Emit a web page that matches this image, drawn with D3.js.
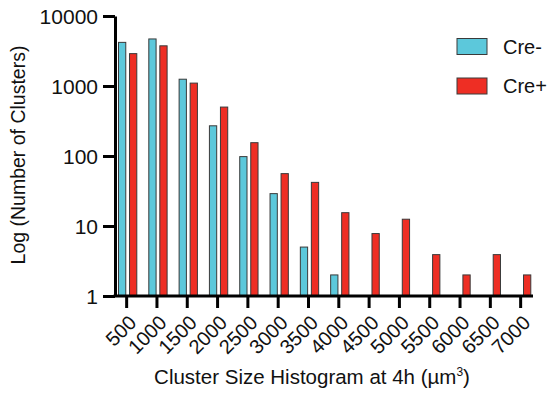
<html>
  <head>
    <meta charset="utf-8">
    <script src="https://d3js.org/d3.v7.min.js"></script>
    <title>Cluster Size Histogram</title>
    <style>
      body {
        margin: 0px;
        background: #fff;
      }
      text {
        font-family: 'Liberation Sans', Arial, sans-serif;
        fill: #111;
      }
    </style>
  </head>
  <body>
    <svg width="553" height="394"></svg>
    <script>
      const categories = ['500', '1000', '1500', '2000', '2500', '3000', '3500',
        '4000', '4500', '5000', '5500', '6000', '6500', '7000'];
      const series = ['Cre-', 'Cre+'];
      const creMinus = [4200, 4700, 1250, 270, 98, 29, 5, 2, null, null, null, null, null, null];
      const crePlus = [2900, 3750, 1100, 500, 155, 56, 42, 15.5, 7.8, 12.5, 3.9, 2, 3.9, 2];
      const yTickValues = [1, 10, 100, 1000, 10000];
      const colors = { 'Cre-': '#5cc8db', 'Cre+': '#ee2e24' };
      const xLabel = 'Cluster Size Histogram at 4h (µm';
      const yLabel = 'Log (Number of Clusters)';

      const svg = d3.select('svg');
      const yAxisX = 115;
      const baseY = 296;

      const xScale = d3.scaleBand()
        .domain(categories)
        .range([111.5, 535.8]);
      const x1 = d3.scaleBand()
        .domain(series)
        .range([7, 25.3])
        .paddingInner(0.34);
      const yScale = d3.scaleLog()
        .domain([1, 10000])
        .range([baseY, 16]);

      const data = categories.map((c, i) => ({
        cat: c,
        values: [{ key: 'Cre-', v: creMinus[i] }, { key: 'Cre+', v: crePlus[i] }]
      }));

      // bars
      svg.append('g').selectAll('g')
        .data(data)
        .join('g')
          .attr('transform', d => `translate(${xScale(d.cat)},0)`)
        .selectAll('rect')
        .data(d => d.values.filter(e => e.v != null))
        .join('rect')
          .attr('x', d => x1(d.key))
          .attr('width', x1.bandwidth())
          .attr('y', d => yScale(d.v))
          .attr('height', d => baseY - yScale(d.v))
          .attr('fill', d => colors[d.key])
          .attr('stroke', '#3a3a3a')
          .attr('stroke-width', 1);

      // y axis
      const yAxis = d3.axisLeft(yScale)
        .tickValues(yTickValues)
        .tickFormat(d3.format('d'))
        .tickSize(12)
        .tickPadding(5)
        .tickSizeOuter(0);
      const yAxisG = svg.append('g')
        .attr('transform', `translate(${yAxisX},0)`)
        .call(yAxis);
      yAxisG.select('.domain').attr('stroke-width', 3).attr('stroke', '#000');
      yAxisG.selectAll('.tick line').attr('stroke-width', 3).attr('stroke', '#000');
      yAxisG.selectAll('.tick text')
        .attr('font-size', 21)
        .attr('dy', '0.36em')
        .attr('fill', '#111');

      // x axis
      const xAxis = d3.axisBottom(xScale)
        .tickSize(12)
        .tickSizeOuter(0);
      const xAxisG = svg.append('g')
        .attr('transform', `translate(0,${baseY})`)
        .call(xAxis);
      xAxisG.select('.domain').remove();
      xAxisG.append('line')
        .attr('x1', yAxisX - 1.5)
        .attr('x2', 533)
        .attr('stroke', '#000')
        .attr('stroke-width', 3);
      xAxisG.selectAll('.tick line').attr('stroke-width', 3).attr('stroke', '#000');
      xAxisG.selectAll('.tick text')
        .attr('font-size', 20)
        .attr('fill', '#111')
        .attr('text-anchor', 'end')
        .attr('transform', 'translate(1,18) rotate(-45)')
        .attr('x', 0)
        .attr('y', 0)
        .attr('dy', '0.7em');

      // axis titles
      const xt = svg.append('text')
        .attr('x', 312)
        .attr('y', 384)
        .attr('text-anchor', 'middle')
        .attr('font-size', 20.5)
        .text(xLabel);
      xt.append('tspan')
        .attr('font-size', 12)
        .attr('dy', -8)
        .text('3');
      xt.append('tspan')
        .attr('dy', 8)
        .text(')');

      svg.append('text')
        .attr('transform', 'translate(25,155) rotate(-90)')
        .attr('text-anchor', 'middle')
        .attr('font-size', 19.5)
        .text(yLabel);

      // legend
      const legend = svg.append('g').selectAll('g')
        .data(series)
        .join('g')
          .attr('transform', (d, i) => `translate(457,${38.5 + i * 39.5})`);
      legend.append('rect')
        .attr('width', 30)
        .attr('height', 16)
        .attr('fill', d => colors[d])
        .attr('stroke', '#3a3a3a')
        .attr('stroke-width', 1);
      legend.append('text')
        .attr('x', 46)
        .attr('y', 15)
        .attr('font-size', 20)
        .text(d => d);
    </script>
  </body>
</html>
